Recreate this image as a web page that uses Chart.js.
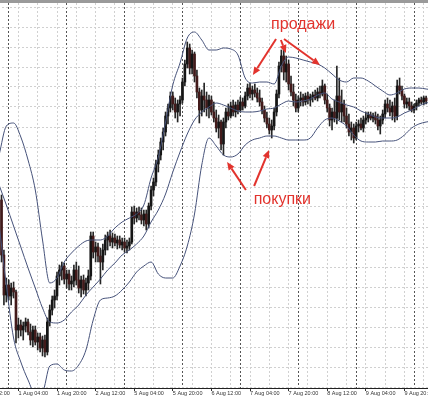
<!DOCTYPE html>
<html>
<head>
<meta charset="utf-8">
<script src="https://cdn.jsdelivr.net/npm/chart.js@4.4.1/dist/chart.umd.min.js"></script>
<style>
  html, body { margin: 0; padding: 0; background: #fff; overflow: hidden; }
  #wrap { position: relative; width: 428px; height: 400px; overflow: hidden; border-top: 3px solid #9a9a9a; box-sizing: border-box; }
  #chart { position: absolute; left: -42px; top: 0; }
</style>
</head>
<body>
<div id="wrap"><canvas id="chart" width="470" height="397"></canvas></div>
<script>
// === Data (H1 candles, hours counted in trading time from 31 Jul 00:00) ===
const firstHour = 21;

const opens = [
  187, 132, 92, 102, 91, 99, 95, 57, 62, 57,
  61, 65, 55, 47, 57, 45, 50, 39, 47, 35,
  65, 77, 87, 91, 111, 117, 121, 108, 113, 103,
  106, 117, 107, 99, 107, 97, 104, 111, 151, 135,
  140, 131, 125, 137, 147, 151, 145, 149, 144, 147,
  142, 145, 139, 141, 145, 175, 169, 175, 172, 167,
  173, 163, 181, 197, 205, 223, 232, 245, 255, 271,
  279, 291, 283, 275, 283, 287, 305, 323, 339, 319,
  333, 311, 295, 277, 291, 287, 279, 287, 275, 269,
  259, 265, 243, 265, 275, 271, 281, 275, 282, 277,
  285, 281, 291, 299, 293, 297, 294, 289, 285, 277,
  269, 263, 257, 261, 275, 293, 321, 331, 315, 323,
  303, 295, 287, 279, 287, 289, 285, 291, 287, 290,
  292, 289, 295, 293, 301, 287, 279, 267, 275, 269,
  291, 275, 283, 271, 263, 255, 259, 249, 261, 263,
  259, 267, 269, 272, 269, 271, 267, 261, 267, 273,
  283, 279, 275, 281, 271, 301, 297, 291, 283, 285,
  281, 277, 281, 284, 287, 285, 289
];
const highs = [
  192, 137, 109, 107, 104, 105, 97, 69, 67, 65,
  69, 68, 63, 61, 61, 54, 54, 51, 52, 69,
  82, 91, 97, 115, 122, 125, 124, 117, 117, 111,
  122, 125, 121, 111, 112, 109, 117, 155, 155, 145,
  144, 139, 143, 152, 155, 157, 154, 153, 151, 151,
  149, 149, 147, 149, 180, 181, 179, 180, 179, 177,
  177, 184, 201, 209, 227, 237, 249, 259, 275, 283,
  295, 295, 289, 287, 291, 309, 327, 345, 343, 337,
  335, 317, 299, 297, 304, 295, 292, 291, 285, 277,
  272, 267, 269, 279, 283, 285, 287, 285, 287, 290,
  289, 295, 303, 304, 301, 303, 299, 297, 289, 281,
  275, 269, 267, 279, 297, 325, 337, 339, 331, 327,
  311, 303, 293, 291, 295, 293, 294, 295, 293, 295,
  297, 299, 301, 307, 303, 293, 283, 279, 287, 321,
  309, 297, 287, 279, 273, 265, 263, 265, 267, 269,
  271, 275, 275, 275, 274, 275, 273, 271, 277, 287,
  289, 287, 285, 289, 307, 309, 301, 293, 289, 289,
  285, 283, 287, 289, 290, 291, 291
];
const lows = [
  125, 82, 85, 87, 82, 89, 44, 49, 51, 47,
  55, 52, 42, 40, 42, 37, 35, 31, 30, 32,
  61, 72, 79, 87, 102, 107, 103, 99, 97, 97,
  100, 102, 94, 90, 93, 91, 97, 107, 129, 125,
  125, 103, 117, 132, 137, 141, 139, 141, 138, 139,
  137, 135, 134, 137, 143, 163, 165, 167, 163, 161,
  157, 159, 177, 191, 201, 215, 227, 237, 251, 263,
  275, 277, 269, 265, 271, 284, 301, 319, 313, 313,
  305, 289, 264, 271, 275, 271, 269, 272, 265, 255,
  249, 237, 232, 259, 267, 269, 271, 270, 273, 275,
  277, 279, 287, 289, 287, 290, 285, 281, 273, 265,
  259, 253, 249, 257, 271, 289, 315, 307, 305, 297,
  291, 281, 275, 275, 281, 281, 282, 283, 281, 285,
  287, 286, 289, 291, 283, 275, 261, 257, 265, 263,
  267, 265, 265, 259, 251, 247, 244, 247, 255, 257,
  255, 263, 265, 267, 265, 263, 257, 253, 263, 269,
  275, 271, 267, 265, 267, 293, 287, 279, 279, 277,
  275, 274, 277, 281, 283, 282, 283
];
const closes = [
  132, 92, 102, 91, 99, 95, 57, 62, 57, 61,
  65, 55, 47, 57, 45, 50, 39, 47, 35, 65,
  77, 87, 91, 111, 117, 121, 108, 113, 103, 106,
  117, 107, 99, 107, 97, 104, 111, 151, 135, 140,
  131, 125, 137, 147, 151, 145, 149, 144, 147, 142,
  145, 139, 141, 145, 175, 169, 175, 172, 167, 173,
  163, 181, 197, 205, 223, 232, 245, 255, 271, 279,
  291, 283, 275, 283, 287, 305, 323, 339, 319, 333,
  311, 295, 277, 291, 287, 279, 287, 275, 269, 259,
  265, 243, 265, 275, 271, 281, 275, 282, 277, 285,
  281, 291, 299, 293, 297, 294, 289, 285, 277, 269,
  263, 257, 261, 275, 293, 321, 331, 315, 323, 303,
  295, 287, 279, 287, 289, 285, 291, 287, 290, 292,
  289, 295, 293, 301, 287, 279, 267, 275, 269, 291,
  275, 283, 271, 263, 255, 259, 249, 261, 263, 259,
  267, 269, 272, 269, 271, 267, 261, 267, 273, 283,
  279, 275, 281, 271, 301, 297, 291, 283, 285, 281,
  277, 281, 284, 287, 285, 289, 286
];

// Bollinger bands, one reading every 3 hours from hour 20
const bandStart = 20;
const bandStep = 3;
const upperBand = [
  232, 261, 264, 250, 227, 197, 147, 104, 109, 125,
  134, 141, 146, 147, 147, 151, 159, 165, 169, 173,
  182, 209, 230, 265, 302, 324, 349, 355, 347, 337,
  337, 339, 338, 332, 309, 304, 305, 305, 303, 321,
  330, 329, 327, 325, 323, 319, 313, 307, 305, 309,
  309, 306, 301, 296, 292, 294, 298, 299, 299, 298,
  297
];
const middleBand = [
  202, 182, 161, 140, 119, 99, 79, 65, 64, 67,
  75, 82, 92, 100, 108, 117, 124, 132, 137, 143,
  151, 165, 177, 193, 215, 235, 253, 267, 275, 280,
  284, 282, 279, 276, 275, 275, 276, 278, 279, 283,
  286, 285, 286, 288, 292, 294, 288, 285, 282, 280,
  276, 273, 270, 269, 269, 270, 274, 277, 281, 284,
  285
];
const lowerBand = [
  162, 102, 49, 25, 7, -7, -5, 21, 23, 17,
  16, 22, 37, 67, 87, 89, 91, 97, 105, 115,
  121, 125, 113, 109, 109, 121, 141, 173, 222, 249,
  241, 232, 230, 233, 242, 247, 249, 251, 251, 249,
  247, 247, 247, 249, 259, 267, 269, 266, 261, 252,
  246, 245, 245, 246, 246, 247, 252, 259, 263, 265,
  266
];

const tickLabels = [
  '31 Jul 12:00', '1 Aug 04:00', '1 Aug 20:00', '2 Aug 12:00', '5 Aug 04:00', '5 Aug 20:00',
  '6 Aug 12:00', '7 Aug 04:00', '7 Aug 20:00', '8 Aug 12:00', '9 Aug 04:00', '9 Aug 20:00'
];

// annotations (hour, price)
const notes = [
  { text: 'продажи', x: 146.0, y: 358 },
  { text: 'покупки', x: 137.4, y: 183 }
];
const arrows = [
  [134.8, 348, 125.2, 312],
  [136.8, 347, 138.9, 334],
  [138.1, 348, 153.0, 322],
  [122.3, 197, 114.5, 225],
  [125.7, 201, 131.9, 237]
];

// === Build datasets ===
const wicks = highs.map((h, i) => ({ x: firstHour + i, y: [lows[i], h] }));
const bodies = opens.map((o, i) => ({ x: firstHour + i, y: [o, closes[i]] }));
const bodyColors = opens.map((o, i) => closes[i] >= o ? '#151515' : '#421a1a');
const band = arr => arr.map((v, i) => ({ x: bandStart + bandStep * i, y: v }));
const bandColor = '#46527a';
const red = '#e2332d';

const annotate = {
  id: 'annotate',
  afterDatasetsDraw(chart) {
    const { ctx, scales: { x, y } } = chart;
    ctx.save();
    ctx.strokeStyle = red;
    ctx.fillStyle = red;
    ctx.lineWidth = 2;
    arrows.forEach(([h0, v0, h1, v1]) => {
      const x0 = x.getPixelForValue(h0), y0 = y.getPixelForValue(v0);
      const x1 = x.getPixelForValue(h1), y1 = y.getPixelForValue(v1);
      const a = Math.atan2(y1 - y0, x1 - x0);
      const hx = x1 - 8 * Math.cos(a), hy = y1 - 8 * Math.sin(a);
      ctx.beginPath();
      ctx.moveTo(x0, y0);
      ctx.lineTo(hx, hy);
      ctx.stroke();
      ctx.beginPath();
      ctx.moveTo(x1, y1);
      ctx.lineTo(hx + 3.5 * Math.sin(a), hy - 3.5 * Math.cos(a));
      ctx.lineTo(hx - 3.5 * Math.sin(a), hy + 3.5 * Math.cos(a));
      ctx.closePath();
      ctx.fill();
    });
    ctx.font = '16px "Liberation Sans", Arial, sans-serif';
    ctx.textAlign = 'center';
    ctx.textBaseline = 'alphabetic';
    notes.forEach(n => ctx.fillText(n.text, x.getPixelForValue(n.x), y.getPixelForValue(n.y)));
    ctx.restore();
  }
};

new Chart(document.getElementById('chart'), {
  type: 'bar',
  data: {
    datasets: [
      { type: 'line', data: band(upperBand), borderColor: bandColor, borderWidth: 1, pointRadius: 0, cubicInterpolationMode: 'monotone', order: 0 },
      { type: 'line', data: band(middleBand), borderColor: bandColor, borderWidth: 1, pointRadius: 0, cubicInterpolationMode: 'monotone', order: 0 },
      { type: 'line', data: band(lowerBand), borderColor: bandColor, borderWidth: 1, pointRadius: 0, cubicInterpolationMode: 'monotone', order: 0 },
      { data: bodies, backgroundColor: bodyColors, barThickness: 2, minBarLength: 1, grouped: false, order: 1 },
      { data: wicks, backgroundColor: '#262626', barThickness: 1, grouped: false, order: 2 }
    ]
  },
  options: {
    responsive: false,
    animation: false,
    layout: { padding: 0 },
    plugins: { legend: { display: false }, tooltip: { enabled: false } },
    scales: {
      x: {
        type: 'linear',
        min: 2.964,
        max: 197.78,
        offset: false,
        afterBuildTicks: scale => {
          const t = [];
          for (let h = Math.ceil(scale.min); h <= scale.max; h++) {
            if (h % 8 === 4 || h % 24 === 0) t.push({ value: h });
          }
          scale.ticks = t;
        },
        afterFit: scale => { scale.height = 12; },
        grid: {
          offset: false,
          color: c => (c.tick && c.tick.value % 24 === 0) ? '#555' : '#d0d0d0',
          tickColor: c => (c.tick && (c.tick.value - 12) % 16 === 0) ? '#333' : 'rgba(0,0,0,0)',
          tickLength: 3
        },
        border: { color: '#222', dash: [2, 2] },
        ticks: {
          autoSkip: false,
          maxRotation: 0,
          align: 'start',
          padding: 0,
          color: '#333',
          font: { family: '"Liberation Sans", Arial, sans-serif', size: 5.5, lineHeight: 1 },
          callback: v => (v - 12) % 16 === 0 ? tickLabels[(v - 12) / 16] : ''
        }
      },
      y: {
        min: -1,
        max: 384,
        afterFit: scale => { scale.width = 0; },
        ticks: { display: false, stepSize: 20, includeBounds: false },
        grid: { color: '#d0d0d0', drawTicks: false },
        border: { display: false, dash: [2, 2] }
      }
    }
  },
  plugins: [annotate]
});
</script>
</body>
</html>
